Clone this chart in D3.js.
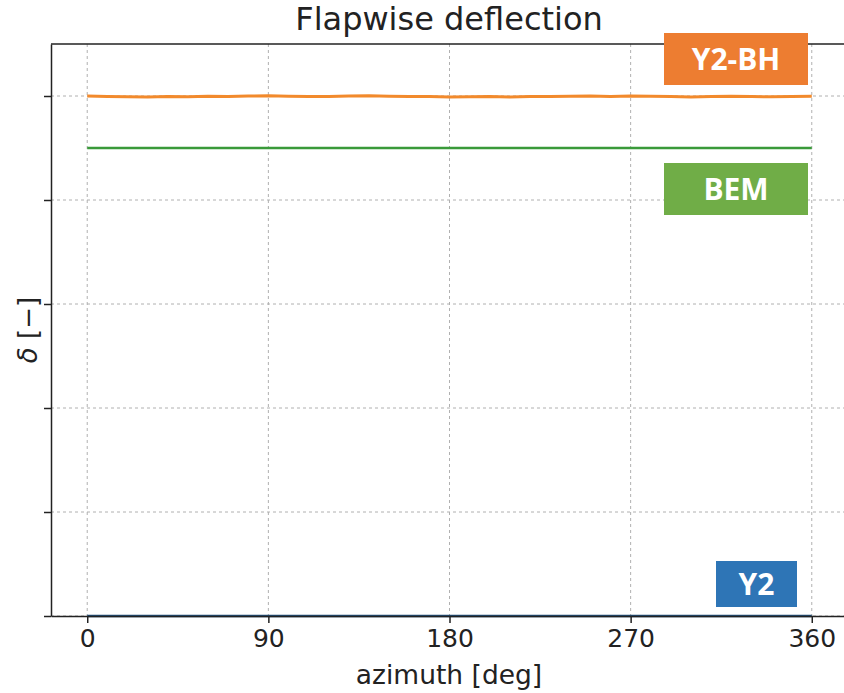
<!DOCTYPE html>
<html><head><meta charset="utf-8">
<script src="https://cdn.jsdelivr.net/npm/d3@7"></script>
<style>body{margin:0;background:#fff;} svg{display:block;}</style>
</head><body>
<svg id="c" width="844" height="693"></svg>
<script>
const title = "Flapwise deflection";
const xLabel = "azimuth [deg]";
const yLabel = "δ [−]";
const xTicks = [0, 90, 180, 270, 360];
const yTicks = [0, 1, 2, 3, 4, 5];
const azimuth = [0,10,20,30,40,50,60,70,80,90,100,110,120,130,140,150,160,170,180,190,200,210,220,230,240,250,260,270,280,290,300,310,320,330,340,350,360];
const y2bh = [5.0,4.995,4.992,4.99,4.995,4.992,4.998,4.996,5.0,5.002,4.998,4.996,4.995,5.0,5.002,4.998,4.996,4.995,4.99,4.992,4.995,4.99,4.996,4.995,4.998,5.0,4.996,5.0,4.998,4.995,4.99,4.995,4.998,4.995,4.992,4.996,4.998];
const bem = [4.5,4.5,4.5,4.5,4.5,4.5,4.5,4.5,4.5,4.5,4.5,4.5,4.5,4.5,4.5,4.5,4.5,4.5,4.5,4.5,4.5,4.5,4.5,4.5,4.5,4.5,4.5,4.5,4.5,4.5,4.5,4.5,4.5,4.5,4.5,4.5,4.5];
const y2 = [0,0,0,0,0,0,0,0,0,0,0,0,0,0,0,0,0,0,0,0,0,0,0,0,0,0,0,0,0,0,0,0,0,0,0,0,0];
const labels = [
  {text:"Y2-BH", color:"#ED7D31"},
  {text:"BEM", color:"#70AD47"},
  {text:"Y2", color:"#2E75B6"}
];

const svg = d3.select("#c");
const L = 51, R = 848, T = 44, B = 616;
const x = d3.scaleLinear().domain([-18, 378]).range([L, R]);
const y = d3.scaleLinear().domain([0, 5.5]).range([B, T]);

// grid
svg.append("g").selectAll("line").data(xTicks).join("line")
  .attr("x1", d=>x(d)).attr("x2", d=>x(d)).attr("y1", T).attr("y2", B)
  .attr("stroke", "#b0b0b0").attr("stroke-width", 1).attr("stroke-dasharray", "3,3");
svg.append("g").selectAll("line").data(yTicks).join("line")
  .attr("x1", L).attr("x2", R).attr("y1", d=>y(d)).attr("y2", d=>y(d))
  .attr("stroke", "#b0b0b0").attr("stroke-width", 1).attr("stroke-dasharray", "3,3");

const line = d3.line().x((d,i)=>x(azimuth[i])).y(d=>y(d));
svg.append("path").datum(y2bh).attr("d", line).attr("fill","none").attr("stroke","#f28a2c").attr("stroke-width",3);
svg.append("path").datum(bem).attr("d", line).attr("fill","none").attr("stroke","#3a9a3a").attr("stroke-width",2.5);
svg.append("path").datum(y2).attr("d", line).attr("fill","none").attr("stroke","#1f4e79").attr("stroke-width",2.5);

// axes
const xAxis = d3.axisBottom(x).tickValues(xTicks).tickSize(7).tickSizeOuter(0).tickPadding(6).tickFormat(d3.format("d"));
const gx = svg.append("g").attr("transform", `translate(0,${B})`).call(xAxis);
gx.select(".domain").attr("stroke","#222").attr("stroke-width",1.5);
gx.selectAll(".tick line").attr("stroke","#222").attr("stroke-width",1.5);
gx.selectAll("text").attr("font-family","DejaVu Sans").attr("font-size",25).attr("fill","#222");

const yAxis = d3.axisLeft(y).tickValues(yTicks).tickSize(7).tickSizeOuter(0).tickFormat("");
const gy = svg.append("g").attr("transform", `translate(${L},0)`).call(yAxis);
gy.select(".domain").attr("stroke","#222").attr("stroke-width",1.5);
gy.selectAll(".tick line").attr("stroke","#222").attr("stroke-width",1.5);

// top spine
svg.append("line").attr("x1",L).attr("x2",R).attr("y1",T).attr("y2",T).attr("stroke","#222").attr("stroke-width",1.5);

// texts
svg.append("text").attr("x", 449).attr("y", 30).attr("text-anchor","middle")
  .attr("font-family","DejaVu Sans").attr("font-size",32).attr("fill","#222").text(title);
svg.append("text").attr("x", 449).attr("y", 684).attr("text-anchor","middle")
  .attr("font-family","DejaVu Sans").attr("font-size",26.5).attr("fill","#222").text(xLabel);
svg.append("text").attr("transform","translate(37,330) rotate(-90)").attr("text-anchor","middle")
  .attr("font-family","DejaVu Sans").attr("font-size",26).attr("fill","#222")
  .call(t=>{t.append("tspan").attr("font-style","italic").text("δ"); t.append("tspan").text(" [−]");});

// label boxes
const boxes = [
  {x0:664, y0:33, w:144, h:52},
  {x0:664, y0:163, w:144, h:52},
  {x0:716, y0:561, w:81, h:46}
];
labels.forEach((l,i)=>{
  const b = boxes[i];
  svg.append("rect").attr("x",b.x0).attr("y",b.y0).attr("width",b.w).attr("height",b.h).attr("fill",l.color);
  svg.append("text").attr("x",b.x0+b.w/2).attr("y",b.y0+b.h/2+11).attr("text-anchor","middle")
    .attr("font-family","Open Sans").attr("font-weight","bold").attr("font-size",30).attr("fill","#fff").text(l.text);
});
</script>
</body></html>
